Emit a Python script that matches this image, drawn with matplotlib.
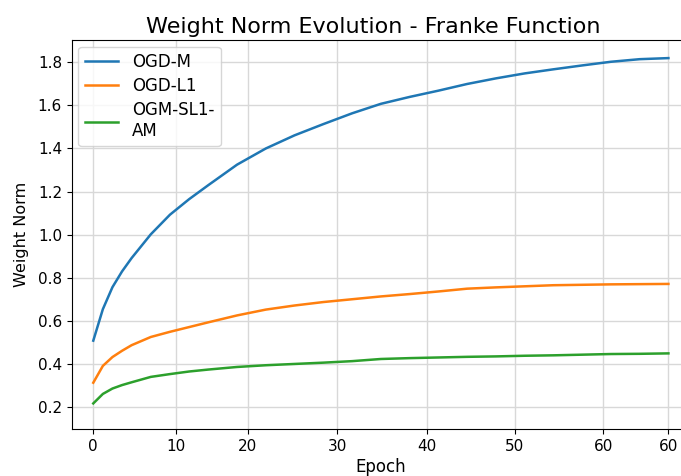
import matplotlib
matplotlib.use("Agg")
import matplotlib.pyplot as plt

# x positions (axis units) and series values
x_pos = [0, 1, 2, 3, 4, 6, 8, 10, 12, 15, 18, 21, 24, 27, 30, 33, 36, 39, 42, 45, 48, 51, 54, 57, 60]
ogd_m = [0.509, 0.655, 0.757, 0.830, 0.892, 1.002, 1.093, 1.165, 1.230, 1.325, 1.400, 1.461, 1.513,
         1.563, 1.607, 1.639, 1.668, 1.699, 1.725, 1.748, 1.767, 1.785, 1.802, 1.814, 1.819]
ogd_l1 = [0.314, 0.392, 0.433, 0.462, 0.488, 0.526, 0.550, 0.572, 0.594, 0.626, 0.653, 0.672, 0.688,
          0.701, 0.714, 0.725, 0.737, 0.750, 0.756, 0.761, 0.766, 0.768, 0.770, 0.771, 0.772]
ogm_sl1_am = [0.218, 0.262, 0.287, 0.303, 0.316, 0.341, 0.354, 0.366, 0.375, 0.387, 0.395, 0.401, 0.407,
              0.414, 0.424, 0.428, 0.431, 0.434, 0.436, 0.439, 0.441, 0.444, 0.447, 0.448, 0.450]

series_labels = ["OGD-M", "OGD-L1", "OGM-SL1-\nAM"]
series_colors = ["#1f77b4", "#ff7f0e", "#2ca02c"]

x_tick_pos = [0, 8.63, 16.11, 25.46, 34.79, 43.97, 53.21, 60]
x_tick_labels = ["0", "10", "20", "30", "40", "50", "60", "60"]
y_ticks = [0.2, 0.4, 0.6, 0.8, 1.0, 1.2, 1.4, 1.6, 1.8]

fig = plt.figure(figsize=(6.81, 4.76), dpi=100)
ax = fig.add_axes([0.1053, 0.0981, 1.0132 - 0.1053, 0.916 - 0.0981])

for ys, lab, col in zip([ogd_m, ogd_l1, ogm_sl1_am], series_labels, series_colors):
    ax.plot(x_pos, ys, color=col, lw=1.8, label=lab)

ax.set_xlim(-2.25, 62.25)
ax.set_ylim(0.098, 1.903)
ax.set_xticks(x_tick_pos)
ax.set_xticklabels(x_tick_labels)
ax.set_yticks(y_ticks)
ax.set_yticklabels([f"{v:.1f}" for v in y_ticks])
ax.tick_params(labelsize=11)
ax.grid(True, color="#d8d8d8", lw=1.0)
ax.set_axisbelow(True)
ax.set_xlabel("Epoch", fontsize=12, labelpad=3)
ax.set_ylabel("Weight Norm", fontsize=11.5, labelpad=6)
ax.set_title("Weight Norm Evolution - Franke Function", fontsize=16, x=0.487, pad=5)
ax.legend(loc="upper left", fontsize=12, framealpha=0.8, handlelength=2.0,
          borderaxespad=0.4, labelspacing=0.35)

fig.savefig("out.png", dpi=100)
